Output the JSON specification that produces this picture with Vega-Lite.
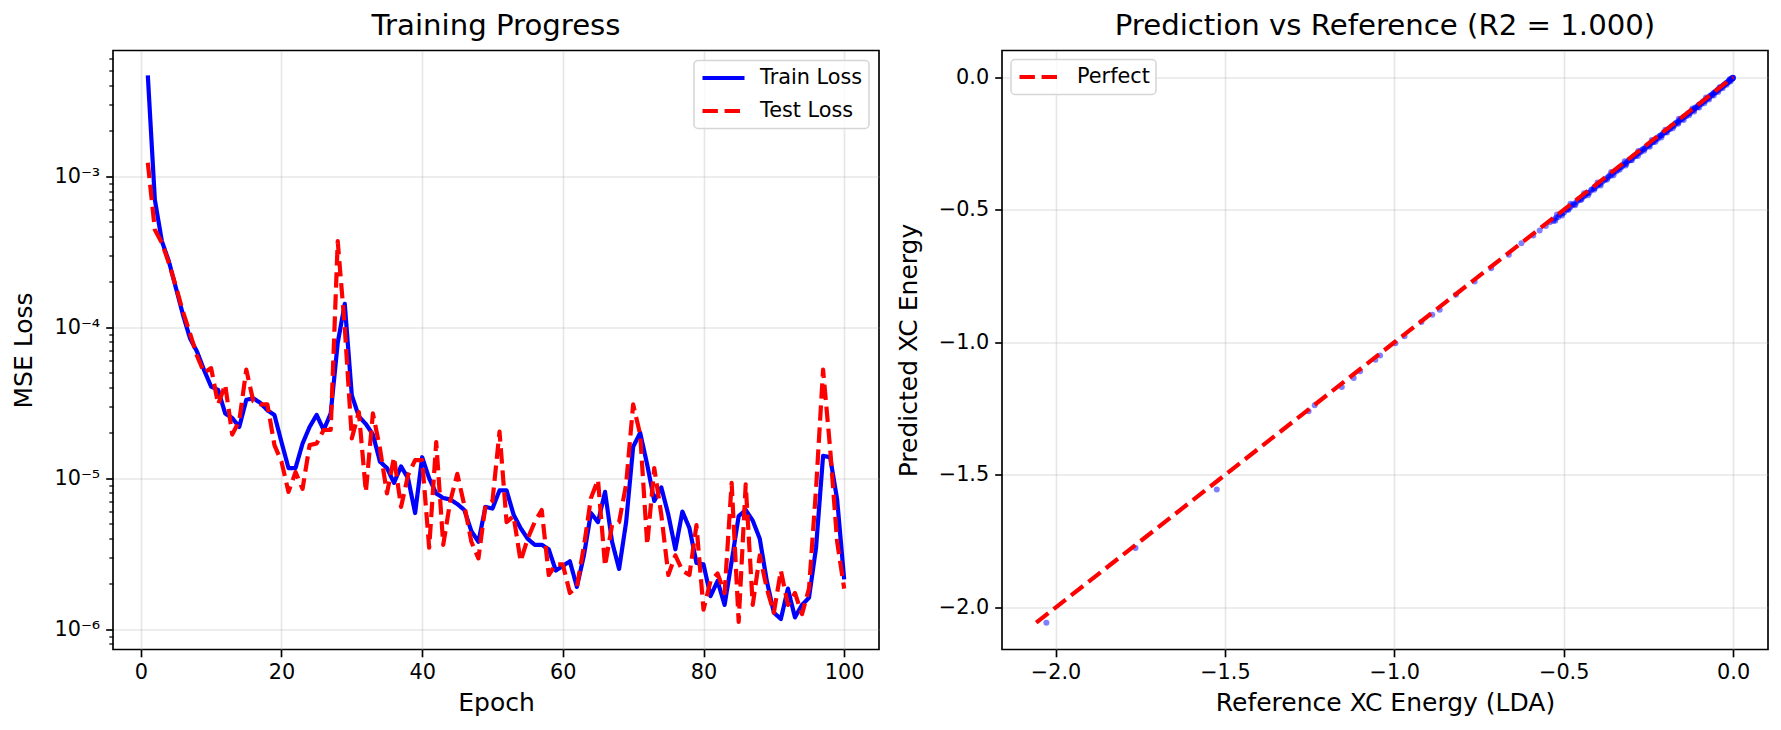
{
  "$schema": "https://vega.github.io/schema/vega-lite/v6.json",
  "padding": {"left": 11, "top": 10.5, "right": 5, "bottom": 5},
  "bounds": "flush",
  "spacing": 123,
  "resolve": {"scale": {"color": "independent", "strokeDash": "independent"}, "legend": {"color": "independent", "strokeDash": "independent"}},
  "datasets": {
    "loss": [
      {"epoch":1,"Train Loss":4.66e-3,"Test Loss":1.23e-3},
      {"epoch":2,"Train Loss":7.0e-4,"Test Loss":4.43e-4},
      {"epoch":3,"Train Loss":3.72e-4,"Test Loss":3.63e-4},
      {"epoch":4,"Train Loss":2.73e-4,"Test Loss":2.66e-4},
      {"epoch":5,"Train Loss":1.82e-4,"Test Loss":1.86e-4},
      {"epoch":6,"Train Loss":1.21e-4,"Test Loss":1.27e-4},
      {"epoch":7,"Train Loss":8.45e-5,"Test Loss":9.12e-5},
      {"epoch":8,"Train Loss":6.9e-5,"Test Loss":6.46e-5},
      {"epoch":9,"Train Loss":5.21e-5,"Test Loss":5.01e-5},
      {"epoch":10,"Train Loss":4.05e-5,"Test Loss":5.37e-5},
      {"epoch":11,"Train Loss":3.85e-5,"Test Loss":3.09e-5},
      {"epoch":12,"Train Loss":2.69e-5,"Test Loss":4.17e-5},
      {"epoch":13,"Train Loss":2.51e-5,"Test Loss":1.95e-5},
      {"epoch":14,"Train Loss":2.19e-5,"Test Loss":2.4e-5},
      {"epoch":15,"Train Loss":3.31e-5,"Test Loss":5.25e-5},
      {"epoch":16,"Train Loss":3.39e-5,"Test Loss":3.24e-5},
      {"epoch":17,"Train Loss":3.16e-5,"Test Loss":3.09e-5},
      {"epoch":18,"Train Loss":2.82e-5,"Test Loss":3.09e-5},
      {"epoch":19,"Train Loss":2.63e-5,"Test Loss":1.66e-5},
      {"epoch":20,"Train Loss":1.74e-5,"Test Loss":1.29e-5},
      {"epoch":21,"Train Loss":1.17e-5,"Test Loss":8.13e-6},
      {"epoch":22,"Train Loss":1.17e-5,"Test Loss":1.1e-5},
      {"epoch":23,"Train Loss":1.7e-5,"Test Loss":8.51e-6},
      {"epoch":24,"Train Loss":2.19e-5,"Test Loss":1.66e-5},
      {"epoch":25,"Train Loss":2.63e-5,"Test Loss":1.7e-5},
      {"epoch":26,"Train Loss":2.09e-5,"Test Loss":2.09e-5},
      {"epoch":27,"Train Loss":2.69e-5,"Test Loss":2.09e-5},
      {"epoch":28,"Train Loss":7.9e-5,"Test Loss":3.72e-4},
      {"epoch":29,"Train Loss":1.43e-4,"Test Loss":1.0e-4},
      {"epoch":30,"Train Loss":3.55e-5,"Test Loss":1.84e-5},
      {"epoch":31,"Train Loss":2.57e-5,"Test Loss":2.75e-5},
      {"epoch":32,"Train Loss":2.29e-5,"Test Loss":8.13e-6},
      {"epoch":33,"Train Loss":1.95e-5,"Test Loss":2.69e-5},
      {"epoch":34,"Train Loss":1.29e-5,"Test Loss":1.58e-5},
      {"epoch":35,"Train Loss":1.17e-5,"Test Loss":7.94e-6},
      {"epoch":36,"Train Loss":9.33e-6,"Test Loss":1.38e-5},
      {"epoch":37,"Train Loss":1.2e-5,"Test Loss":6.46e-6},
      {"epoch":38,"Train Loss":1.0e-5,"Test Loss":1.05e-5},
      {"epoch":39,"Train Loss":5.89e-6,"Test Loss":1.32e-5},
      {"epoch":40,"Train Loss":1.38e-5,"Test Loss":1.32e-5},
      {"epoch":41,"Train Loss":1.0e-5,"Test Loss":3.47e-6},
      {"epoch":42,"Train Loss":7.94e-6,"Test Loss":1.74e-5},
      {"epoch":43,"Train Loss":7.41e-6,"Test Loss":3.63e-6},
      {"epoch":44,"Train Loss":7.24e-6,"Test Loss":7.08e-6},
      {"epoch":45,"Train Loss":6.76e-6,"Test Loss":1.07e-5},
      {"epoch":46,"Train Loss":6.17e-6,"Test Loss":6.61e-6},
      {"epoch":47,"Train Loss":4.47e-6,"Test Loss":3.8e-6},
      {"epoch":48,"Train Loss":3.8e-6,"Test Loss":2.95e-6},
      {"epoch":49,"Train Loss":6.46e-6,"Test Loss":6.61e-6},
      {"epoch":50,"Train Loss":6.31e-6,"Test Loss":7.08e-6},
      {"epoch":51,"Train Loss":8.32e-6,"Test Loss":2.04e-5},
      {"epoch":52,"Train Loss":8.32e-6,"Test Loss":5.13e-6},
      {"epoch":53,"Train Loss":5.75e-6,"Test Loss":5.62e-6},
      {"epoch":54,"Train Loss":4.68e-6,"Test Loss":2.82e-6},
      {"epoch":55,"Train Loss":3.98e-6,"Test Loss":3.98e-6},
      {"epoch":56,"Train Loss":3.63e-6,"Test Loss":5.13e-6},
      {"epoch":57,"Train Loss":3.63e-6,"Test Loss":6.17e-6},
      {"epoch":58,"Train Loss":3.39e-6,"Test Loss":2.29e-6},
      {"epoch":59,"Train Loss":2.45e-6,"Test Loss":2.69e-6},
      {"epoch":60,"Train Loss":2.63e-6,"Test Loss":2.69e-6},
      {"epoch":61,"Train Loss":2.82e-6,"Test Loss":1.74e-6},
      {"epoch":62,"Train Loss":1.91e-6,"Test Loss":1.91e-6},
      {"epoch":63,"Train Loss":3.09e-6,"Test Loss":3.55e-6},
      {"epoch":64,"Train Loss":5.89e-6,"Test Loss":7.41e-6},
      {"epoch":65,"Train Loss":5.13e-6,"Test Loss":9.77e-6},
      {"epoch":66,"Train Loss":8.13e-6,"Test Loss":2.63e-6},
      {"epoch":67,"Train Loss":3.8e-6,"Test Loss":4.9e-6},
      {"epoch":68,"Train Loss":2.51e-6,"Test Loss":5.13e-6},
      {"epoch":69,"Train Loss":5.13e-6,"Test Loss":9.12e-6},
      {"epoch":70,"Train Loss":1.62e-5,"Test Loss":3.09e-5},
      {"epoch":71,"Train Loss":2.0e-5,"Test Loss":1.95e-5},
      {"epoch":72,"Train Loss":1.23e-5,"Test Loss":3.63e-6},
      {"epoch":73,"Train Loss":7.08e-6,"Test Loss":1.17e-5},
      {"epoch":74,"Train Loss":8.71e-6,"Test Loss":5.75e-6},
      {"epoch":75,"Train Loss":5.75e-6,"Test Loss":2.29e-6},
      {"epoch":76,"Train Loss":3.39e-6,"Test Loss":3.09e-6},
      {"epoch":77,"Train Loss":6.03e-6,"Test Loss":2.45e-6},
      {"epoch":78,"Train Loss":4.68e-6,"Test Loss":2.29e-6},
      {"epoch":79,"Train Loss":2.75e-6,"Test Loss":4.9e-6},
      {"epoch":80,"Train Loss":2.69e-6,"Test Loss":1.35e-6},
      {"epoch":81,"Train Loss":1.66e-6,"Test Loss":2.09e-6},
      {"epoch":82,"Train Loss":2.09e-6,"Test Loss":2.34e-6},
      {"epoch":83,"Train Loss":1.45e-6,"Test Loss":1.74e-6},
      {"epoch":84,"Train Loss":2.82e-6,"Test Loss":9.33e-6},
      {"epoch":85,"Train Loss":5.62e-6,"Test Loss":1.12e-6},
      {"epoch":86,"Train Loss":6.17e-6,"Test Loss":9.12e-6},
      {"epoch":87,"Train Loss":5.25e-6,"Test Loss":1.45e-6},
      {"epoch":88,"Train Loss":3.98e-6,"Test Loss":3.09e-6},
      {"epoch":89,"Train Loss":2.09e-6,"Test Loss":1.86e-6},
      {"epoch":90,"Train Loss":1.29e-6,"Test Loss":1.29e-6},
      {"epoch":91,"Train Loss":1.17e-6,"Test Loss":2.45e-6},
      {"epoch":92,"Train Loss":1.86e-6,"Test Loss":1.45e-6},
      {"epoch":93,"Train Loss":1.2e-6,"Test Loss":1.74e-6},
      {"epoch":94,"Train Loss":1.45e-6,"Test Loss":1.26e-6},
      {"epoch":95,"Train Loss":1.62e-6,"Test Loss":1.86e-6},
      {"epoch":96,"Train Loss":3.47e-6,"Test Loss":8.51e-6},
      {"epoch":97,"Train Loss":1.41e-5,"Test Loss":5.25e-5},
      {"epoch":98,"Train Loss":1.38e-5,"Test Loss":1.58e-5},
      {"epoch":99,"Train Loss":7.24e-6,"Test Loss":3.8e-6},
      {"epoch":100,"Train Loss":2.14e-6,"Test Loss":1.86e-6}
    ],
    "pred": [
      {"reference":-2.027,"predicted":-2.057},{"reference":-1.764,"predicted":-1.775},{"reference":-1.524,"predicted":-1.555},
      {"reference":-1.253,"predicted":-1.26},{"reference":-1.235,"predicted":-1.237},{"reference":-1.155,"predicted":-1.168},
      {"reference":-1.12,"predicted":-1.134},{"reference":-1.101,"predicted":-1.109},{"reference":-1.056,"predicted":-1.065},
      {"reference":-1.042,"predicted":-1.049},{"reference":-0.997,"predicted":-1.003},{"reference":-0.97,"predicted":-0.977},
      {"reference":-0.92,"predicted":-0.923},{"reference":-0.888,"predicted":-0.896},{"reference":-0.866,"predicted":-0.877},
      {"reference":-0.818,"predicted":-0.82},{"reference":-0.763,"predicted":-0.77},{"reference":-0.714,"predicted":-0.72},
      {"reference":-0.662,"predicted":-0.67},{"reference":-0.625,"predicted":-0.626},{"reference":-0.59,"predicted":-0.597},
      {"reference":-0.571,"predicted":-0.578},{"reference":-0.553,"predicted":-0.561},{"reference":-0.541,"predicted":-0.547},
      {"reference":-0.527,"predicted":-0.536},{"reference":-0.512,"predicted":-0.519},{"reference":-0.503,"predicted":-0.512},
      {"reference":-0.494,"predicted":-0.5},{"reference":-0.481,"predicted":-0.49},{"reference":-0.472,"predicted":-0.479},
      {"reference":-0.463,"predicted":-0.472},{"reference":-0.455,"predicted":-0.461},{"reference":-0.447,"predicted":-0.456},
      {"reference":-0.436,"predicted":-0.443},{"reference":-0.428,"predicted":-0.437},{"reference":-0.419,"predicted":-0.425},
      {"reference":-0.411,"predicted":-0.419},{"reference":-0.402,"predicted":-0.41},{"reference":-0.396,"predicted":-0.402},
      {"reference":-0.388,"predicted":-0.396},{"reference":-0.379,"predicted":-0.386},{"reference":-0.371,"predicted":-0.379},
      {"reference":-0.364,"predicted":-0.37},{"reference":-0.356,"predicted":-0.364},{"reference":-0.349,"predicted":-0.355},
      {"reference":-0.341,"predicted":-0.349},{"reference":-0.334,"predicted":-0.34},{"reference":-0.327,"predicted":-0.335},
      {"reference":-0.319,"predicted":-0.325},{"reference":-0.313,"predicted":-0.32},{"reference":-0.306,"predicted":-0.312},
      {"reference":-0.298,"predicted":-0.306},{"reference":-0.291,"predicted":-0.296},{"reference":-0.285,"predicted":-0.292},
      {"reference":-0.278,"predicted":-0.284},{"reference":-0.271,"predicted":-0.278},{"reference":-0.264,"predicted":-0.27},
      {"reference":-0.258,"predicted":-0.264},{"reference":-0.251,"predicted":-0.257},{"reference":-0.245,"predicted":-0.251},
      {"reference":-0.238,"predicted":-0.244},{"reference":-0.232,"predicted":-0.238},{"reference":-0.226,"predicted":-0.231},
      {"reference":-0.219,"predicted":-0.225},{"reference":-0.213,"predicted":-0.219},{"reference":-0.207,"predicted":-0.212},
      {"reference":-0.201,"predicted":-0.207},{"reference":-0.195,"predicted":-0.2},{"reference":-0.189,"predicted":-0.195},
      {"reference":-0.183,"predicted":-0.188},{"reference":-0.177,"predicted":-0.183},{"reference":-0.171,"predicted":-0.176},
      {"reference":-0.165,"predicted":-0.17},{"reference":-0.159,"predicted":-0.164},{"reference":-0.153,"predicted":-0.158},
      {"reference":-0.148,"predicted":-0.152},{"reference":-0.142,"predicted":-0.147},{"reference":-0.136,"predicted":-0.141},
      {"reference":-0.131,"predicted":-0.135},{"reference":-0.125,"predicted":-0.13},{"reference":-0.119,"predicted":-0.124},
      {"reference":-0.114,"predicted":-0.118},{"reference":-0.108,"predicted":-0.113},{"reference":-0.103,"predicted":-0.107},
      {"reference":-0.097,"predicted":-0.101},{"reference":-0.092,"predicted":-0.096},{"reference":-0.086,"predicted":-0.09},
      {"reference":-0.081,"predicted":-0.085},{"reference":-0.076,"predicted":-0.079},{"reference":-0.07,"predicted":-0.074},
      {"reference":-0.065,"predicted":-0.068},{"reference":-0.06,"predicted":-0.063},{"reference":-0.055,"predicted":-0.058},
      {"reference":-0.05,"predicted":-0.053},{"reference":-0.045,"predicted":-0.047},{"reference":-0.04,"predicted":-0.043},
      {"reference":-0.035,"predicted":-0.037},{"reference":-0.03,"predicted":-0.032},{"reference":-0.026,"predicted":-0.028},
      {"reference":-0.021,"predicted":-0.023},{"reference":-0.017,"predicted":-0.019},{"reference":-0.013,"predicted":-0.014},
      {"reference":-0.009,"predicted":-0.01},{"reference":-0.006,"predicted":-0.007},{"reference":-0.003,"predicted":-0.004},
      {"reference":-0.001,"predicted":-0.002},
      {"reference":-0.531,"predicted":-0.542},
      {"reference":-0.522,"predicted":-0.53},{"reference":-0.516,"predicted":-0.527},{"reference":-0.507,"predicted":-0.515},
      {"reference":-0.499,"predicted":-0.51},{"reference":-0.49,"predicted":-0.497},{"reference":-0.485,"predicted":-0.496},
      {"reference":-0.476,"predicted":-0.484},{"reference":-0.468,"predicted":-0.479},{"reference":-0.459,"predicted":-0.466},
      {"reference":-0.451,"predicted":-0.462},{"reference":-0.443,"predicted":-0.45},{"reference":-0.439,"predicted":-0.449},
      {"reference":-0.431,"predicted":-0.438},{"reference":-0.424,"predicted":-0.435},{"reference":-0.416,"predicted":-0.423},
      {"reference":-0.408,"predicted":-0.418},{"reference":-0.399,"predicted":-0.406},{"reference":-0.393,"predicted":-0.404},
      {"reference":-0.384,"predicted":-0.391},{"reference":-0.377,"predicted":-0.387},{"reference":-0.368,"predicted":-0.375},
      {"reference":-0.361,"predicted":-0.372},{"reference":-0.353,"predicted":-0.359},{"reference":-0.345,"predicted":-0.356},
      {"reference":-0.338,"predicted":-0.344},{"reference":-0.33,"predicted":-0.34},{"reference":-0.323,"predicted":-0.329},
      {"reference":-0.316,"predicted":-0.327},{"reference":-0.309,"predicted":-0.315},{"reference":-0.302,"predicted":-0.312},
      {"reference":-0.295,"predicted":-0.301},{"reference":-0.288,"predicted":-0.298},{"reference":-0.281,"predicted":-0.287},
      {"reference":-0.274,"predicted":-0.284},{"reference":-0.268,"predicted":-0.273},{"reference":-0.261,"predicted":-0.271},
      {"reference":-0.254,"predicted":-0.26},{"reference":-0.248,"predicted":-0.258},{"reference":-0.241,"predicted":-0.246},
      {"reference":-0.235,"predicted":-0.245},{"reference":-0.229,"predicted":-0.234},{"reference":-0.222,"predicted":-0.232},
      {"reference":-0.216,"predicted":-0.221},{"reference":-0.21,"predicted":-0.219},{"reference":-0.204,"predicted":-0.209},
      {"reference":-0.198,"predicted":-0.207},{"reference":-0.192,"predicted":-0.197},{"reference":-0.186,"predicted":-0.195},
      {"reference":-0.18,"predicted":-0.184},{"reference":-0.174,"predicted":-0.183},{"reference":-0.168,"predicted":-0.172},
      {"reference":-0.162,"predicted":-0.171},{"reference":-0.156,"predicted":-0.16},{"reference":-0.15,"predicted":-0.158},
      {"reference":-0.145,"predicted":-0.149},{"reference":-0.139,"predicted":-0.147},{"reference":-0.133,"predicted":-0.137},
      {"reference":-0.128,"predicted":-0.136},{"reference":-0.122,"predicted":-0.126},{"reference":-0.116,"predicted":-0.124},
      {"reference":-0.111,"predicted":-0.114},{"reference":-0.105,"predicted":-0.113},{"reference":-0.1,"predicted":-0.103},
      {"reference":-0.094,"predicted":-0.101},{"reference":-0.089,"predicted":-0.092},{"reference":-0.083,"predicted":-0.09},
      {"reference":-0.078,"predicted":-0.081},{"reference":-0.073,"predicted":-0.079},{"reference":-0.067,"predicted":-0.07},
      {"reference":-0.062,"predicted":-0.068},{"reference":-0.057,"predicted":-0.06},{"reference":-0.052,"predicted":-0.057},
      {"reference":-0.047,"predicted":-0.05},{"reference":-0.042,"predicted":-0.047},{"reference":-0.037,"predicted":-0.04},
      {"reference":-0.033,"predicted":-0.037},{"reference":-0.028,"predicted":-0.031},{"reference":-0.024,"predicted":-0.028},
      {"reference":-0.019,"predicted":-0.022},{"reference":-0.015,"predicted":-0.019},{"reference":-0.011,"predicted":-0.014},
      {"reference":-0.008,"predicted":-0.011},{"reference":-0.005,"predicted":-0.008},{"reference":-0.003,"predicted":-0.006},
      {"reference":-0.002,"predicted":-0.004},{"reference":-0.001,"predicted":-0.003},{"reference":0.0,"predicted":-0.002},
      {"reference":-0.525,"predicted":-0.541},{"reference":-0.505,"predicted":-0.522},{"reference":-0.487,"predicted":-0.501},
      {"reference":-0.466,"predicted":-0.483},{"reference":-0.448,"predicted":-0.462},{"reference":-0.428,"predicted":-0.445},
      {"reference":-0.41,"predicted":-0.424},{"reference":-0.391,"predicted":-0.408},{"reference":-0.372,"predicted":-0.386},
      {"reference":-0.353,"predicted":-0.37},{"reference":-0.335,"predicted":-0.349},{"reference":-0.317,"predicted":-0.333},
      {"reference":-0.299,"predicted":-0.313},{"reference":-0.281,"predicted":-0.297},{"reference":-0.263,"predicted":-0.277},
      {"reference":-0.246,"predicted":-0.262},{"reference":-0.229,"predicted":-0.243},{"reference":-0.212,"predicted":-0.227},
      {"reference":-0.195,"predicted":-0.209},{"reference":-0.178,"predicted":-0.193},{"reference":-0.162,"predicted":-0.176},
      {"reference":-0.146,"predicted":-0.161},{"reference":-0.13,"predicted":-0.144},{"reference":-0.115,"predicted":-0.129},
      {"reference":-0.1,"predicted":-0.114},{"reference":-0.085,"predicted":-0.098},{"reference":-0.071,"predicted":-0.084},
      {"reference":-0.057,"predicted":-0.069},{"reference":-0.044,"predicted":-0.056},{"reference":-0.031,"predicted":-0.042},
      {"reference":-0.019,"predicted":-0.029},{"reference":-0.008,"predicted":-0.016},
      {"reference":-0.52,"predicted":-0.518},{"reference":-0.48,"predicted":-0.477},{"reference":-0.44,"predicted":-0.438},
      {"reference":-0.4,"predicted":-0.397},{"reference":-0.36,"predicted":-0.358},{"reference":-0.32,"predicted":-0.317},
      {"reference":-0.28,"predicted":-0.278},{"reference":-0.24,"predicted":-0.237},{"reference":-0.2,"predicted":-0.198},
      {"reference":-0.16,"predicted":-0.157},{"reference":-0.12,"predicted":-0.118},{"reference":-0.08,"predicted":-0.077},
      {"reference":-0.04,"predicted":-0.038},{"reference":-0.01,"predicted":-0.008}
    ],
    "perfect": [
      {"reference":-2.057,"predicted":-2.057,"line":"Perfect"},
      {"reference":0.0,"predicted":0.0,"line":"Perfect"}
    ]
  },
  "hconcat": [
    {
      "width": 766,
      "height": 599,
      "title": {"text": "Training Progress"},
      "data": {"name": "loss"},
      "transform": [{"fold": ["Train Loss", "Test Loss"], "as": ["series", "loss"]}],
      "layer": [
        {
          "transform": [{"filter": "datum.series === 'Train Loss'"}],
          "mark": {"type": "line", "strokeWidth": 4.2, "strokeJoin": "round", "strokeCap": "butt"},
          "encoding": {
            "x": {"field": "epoch", "type": "quantitative",
                  "scale": {"domain": [-3.95, 104.95], "nice": false, "zero": false},
                  "axis": {"values": [0, 20, 40, 60, 80, 100], "format": "d", "title": "Epoch"}},
            "y": {"field": "loss", "type": "quantitative",
                  "scale": {"type": "log", "domain": [7.35e-7, 6.82e-3], "nice": false},
                  "axis": {"values": [1e-6, 1e-5, 1e-4, 1e-3], "title": "MSE Loss", "orient": "left", "titlePadding": 17,
                           "labelExpr": "datum.value < 2e-6 ? '10⁻⁶' : datum.value < 2e-5 ? '10⁻⁵' : datum.value < 2e-4 ? '10⁻⁴' : '10⁻³'"}},
            "color": {"field": "series", "type": "nominal",
                      "scale": {"domain": ["Train Loss", "Test Loss"], "range": ["#0000ff", "#ff0000"]},
                      "legend": {"title": null, "orient": "top-right", "offset": 10}},
            "strokeDash": {"field": "series", "type": "nominal",
                           "scale": {"domain": ["Train Loss", "Test Loss"], "range": [[1, 0], [15.4, 6.7]]},
                           "legend": {"title": null, "orient": "top-right", "offset": 10}}
          }
        },
        {
          "transform": [{"filter": "datum.series === 'Test Loss'"}],
          "mark": {"type": "line", "strokeWidth": 4.2, "strokeJoin": "round", "strokeCap": "butt"},
          "encoding": {
            "x": {"field": "epoch", "type": "quantitative",
                  "scale": {"domain": [-3.95, 104.95], "nice": false, "zero": false}},
            "y": {"field": "loss", "type": "quantitative",
                  "scale": {"type": "log", "domain": [7.35e-7, 6.82e-3], "nice": false},
                  "axis": {"orient": "left", "title": null, "labels": false, "grid": false, "tickSize": 4.2, "tickWidth": 1.25,
                           "values": [8e-7, 9e-7, 2e-6, 3e-6, 4e-6, 5e-6, 6e-6, 7e-6, 8e-6, 9e-6, 2e-5, 3e-5, 4e-5, 5e-5, 6e-5, 7e-5, 8e-5, 9e-5, 2e-4, 3e-4, 4e-4, 5e-4, 6e-4, 7e-4, 8e-4, 9e-4, 2e-3, 3e-3, 4e-3, 5e-3, 6e-3]}},
            "color": {"field": "series", "type": "nominal",
                      "scale": {"domain": ["Train Loss", "Test Loss"], "range": ["#0000ff", "#ff0000"]},
                      "legend": {"title": null, "orient": "top-right", "offset": 10}},
            "strokeDash": {"field": "series", "type": "nominal",
                           "scale": {"domain": ["Train Loss", "Test Loss"], "range": [[1, 0], [15.4, 6.7]]},
                           "legend": {"title": null, "orient": "top-right", "offset": 10}}
          }
        }
      ],
      "resolve": {"axis": {"y": "independent"}}
    },
    {
      "width": 766,
      "height": 599,
      "title": {"text": "Prediction vs Reference (R2 = 1.000)"},
      "layer": [
        {
          "data": {"name": "pred"},
          "mark": {"type": "circle", "size": 36, "opacity": 0.5, "color": "#0000ff"},
          "encoding": {
            "x": {"field": "reference", "type": "quantitative",
                  "scale": {"domain": [-2.158, 0.103], "nice": false, "zero": false},
                  "axis": {"values": [-2, -1.5, -1, -0.5, 0], "format": ".1f", "title": "Reference XC Energy (LDA)"}},
            "y": {"field": "predicted", "type": "quantitative",
                  "scale": {"domain": [-2.158, 0.1006], "nice": false, "zero": false},
                  "axis": {"values": [-2, -1.5, -1, -0.5, 0], "format": ".1f", "title": "Predicted XC Energy", "titlePadding": 17}}
          }
        },
        {
          "data": {"name": "perfect"},
          "mark": {"type": "line", "strokeWidth": 4.2, "strokeCap": "butt"},
          "encoding": {
            "x": {"field": "reference", "type": "quantitative"},
            "y": {"field": "predicted", "type": "quantitative"},
            "color": {"field": "line", "type": "nominal",
                      "scale": {"domain": ["Perfect"], "range": ["#ff0000"]},
                      "legend": {"title": null, "orient": "top-left", "offset": 9}},
            "strokeDash": {"field": "line", "type": "nominal",
                           "scale": {"domain": ["Perfect"], "range": [[15.4, 6.7]]},
                           "legend": {"title": null, "orient": "top-left", "offset": 9}}
          }
        }
      ]
    }
  ],
  "config": {
    "font": "DejaVu Sans",
    "view": {"stroke": "#000000", "strokeWidth": 1.67},
    "axis": {
      "domain": false, "tickColor": "#000000", "tickSize": 7.3, "tickWidth": 1.67,
      "labelFont": "DejaVu Sans", "labelFontSize": 20.8, "labelColor": "#000000", "labelPadding": 6,
      "labelFlush": false, "labelOverlap": false,
      "titleFont": "DejaVu Sans", "titleFontSize": 25, "titleFontWeight": "normal", "titleColor": "#000000", "titlePadding": 8,
      "grid": true, "gridColor": "#b0b0b0", "gridOpacity": 0.3, "gridWidth": 1.67
    },
    "title": {"font": "DejaVu Sans", "fontSize": 29.2, "fontWeight": "normal", "color": "#000000", "offset": 9.5, "anchor": "middle"},
    "legend": {
      "padding": 6, "symbolType": "stroke", "symbolSize": 1764, "symbolStrokeWidth": 4.2,
      "labelFont": "DejaVu Sans", "labelFontSize": 20.8, "labelColor": "#000000", "labelOffset": 13,
      "clipHeight": 23, "rowPadding": 10, "fillColor": "rgba(255,255,255,0.8)", "strokeColor": "#d5d5d5",
      "strokeWidth": 1.5, "cornerRadius": 4
    }
  }
}
